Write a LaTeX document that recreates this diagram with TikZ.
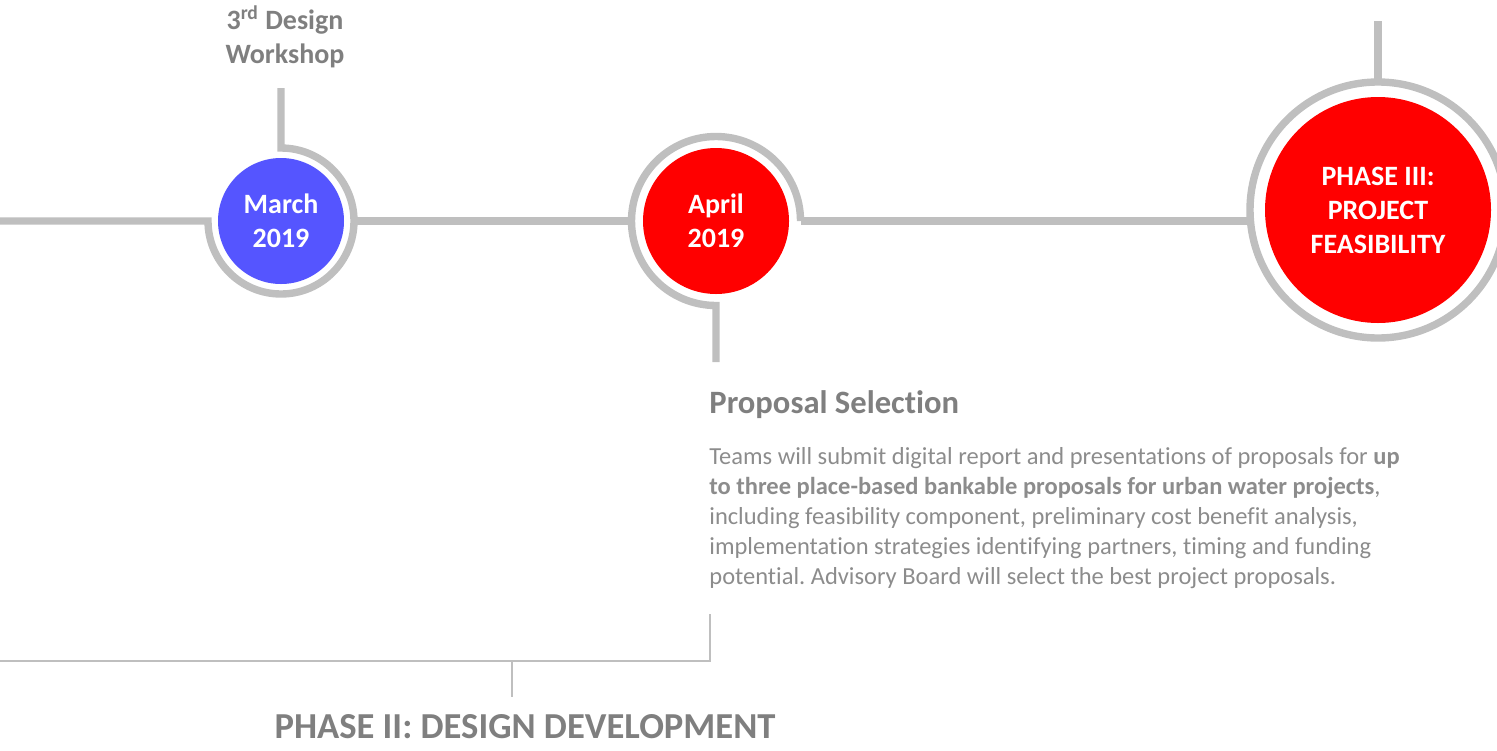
\documentclass[tikz,border=0pt]{standalone}
\usepackage{fontspec}
\setmainfont{Carlito}[Ligatures=NoCommon]
\usetikzlibrary{calc}
\definecolor{linegray}{HTML}{BFBFBF}
\definecolor{textgray}{HTML}{7F7F7F}
\definecolor{bodygray}{HTML}{8C8C8C}
\definecolor{mblue}{HTML}{5555FF}
\definecolor{mred}{HTML}{FF0000}
\tikzset{
  conn/.style={draw=linegray, line width=3.7pt, line cap=butt, line join=miter},
  thin conn/.style={draw=linegray, line width=1.1pt},
  dot/.style={circle, inner sep=0pt, outer sep=0pt, text=white, align=center,
              font=\fontsize{14}{17}\selectfont\bfseries},
  ringref/.style={circle, inner sep=0pt, outer sep=0pt, minimum size=#1},
  label/.style={text=textgray, font=\fontsize{14}{17}\selectfont\bfseries, align=center}
}
\frenchspacing
\begin{document}
\begin{tikzpicture}[x=0.5pt,y=0.5pt]
\useasboundingbox (0,0) rectangle (1497,-750);
% milestone dots
\node[dot, fill=mblue, minimum size=63pt] (march) at (281,-221) {March\\2019};
\node[dot, fill=mred, minimum size=73pt] (april) at (716,-221) {April\\2019};
\node[dot, fill=mred, minimum size=113pt] (ph3) at (1378,-210) {PHASE III:\\PROJECT\\FEASIBILITY};
% ring references
\node[ringref=73pt] (mring) at (march) {};
\node[ringref=84.5pt] (aring) at (april) {};
\node[ringref=128pt] (pring) at (ph3) {};
% free ends
\coordinate (left) at (0,-221);
\coordinate (mtop) at (281,-88);
\coordinate (abot) at (716,-362);
\coordinate (ptop) at (1378,-21);
% rings and connectors
\draw[conn] (left) -- (mring.west) arc[start angle=180, end angle=450, radius=36.5pt] -- (mtop);
\draw[conn] (mring.east) -- (aring.west);
\draw[conn] (aring.west) arc[start angle=180, end angle=0, radius=42.25pt];
\draw[conn] (aring.west) arc[start angle=180, end angle=270, radius=42.25pt] -- (abot);
\draw[conn] (aring.east) -- (aring.east -| pring.west);
\draw[conn] (pring.center) circle[radius=64pt];
\draw[conn] (pring.north) -- (ptop);
% labels
\node[label] (workshop) at (285,-37) {3\textsuperscript{rd} Design\\Workshop};
\node[anchor=west, inner sep=0pt, text=textgray, font=\fontsize{16.3}{19}\selectfont\bfseries] (sel) at (709,-405) {Proposal Selection};
\node[anchor=north west, text=bodygray, align=left, inner sep=0pt,
      font=\fontsize{12.25}{15}\selectfont] (body) at (709,-447)
  {Teams will submit digital report and presentations of proposals for \textbf{up}\\
   \textbf{to three place-based bankable proposals for urban water projects},\\
   including feasibility component, preliminary cost benefit analysis,\\
   implementation strategies identifying partners, timing and funding\\
   potential. Advisory Board will select the best project proposals.};
% phase bracket
\coordinate (bl) at (0,-661);
\coordinate (btop) at (710,-614);
\draw[thin conn] (bl) -- (710,-661) -- (btop);
\node[text=textgray, inner sep=0pt, font=\fontsize{18.3}{21}\selectfont\bfseries] (ph2) at (525,-727) {PHASE II: DESIGN DEVELOPMENT};
\draw[thin conn] (512,-661) -- (512,-697);
\end{tikzpicture}
\end{document}
